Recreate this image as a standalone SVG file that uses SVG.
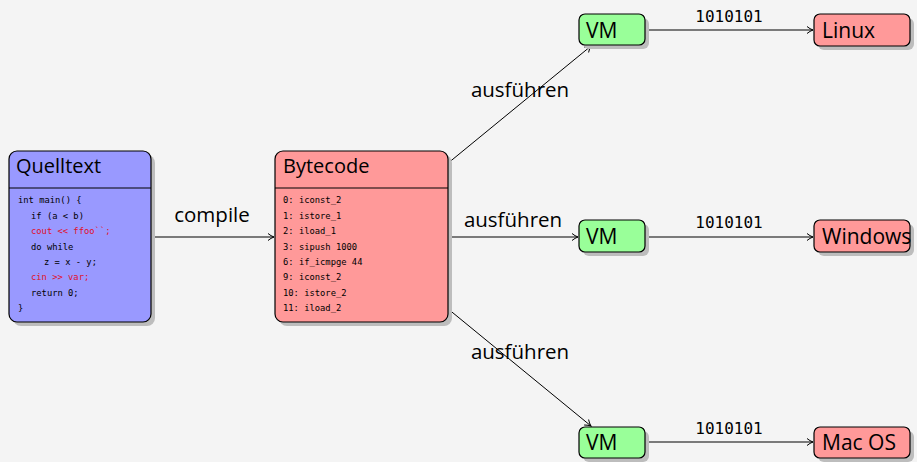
<svg xmlns="http://www.w3.org/2000/svg" width="917" height="462" viewBox="0 0 917 462">
<defs>
<marker id="arr" markerWidth="10" markerHeight="10" refX="7" refY="5" orient="auto" markerUnits="userSpaceOnUse">
<path d="M1,1.5 Q4,4 7,5 Q4,6 1,8.5" fill="none" stroke="#000" stroke-width="1"/>
</marker>
</defs>
<style>
.bg{fill:#f4f4f4}
.shadow{fill:#bdbdbd}
.box{stroke:#000;stroke-width:1.2}
.blue{fill:#9999ff}
.red{fill:#ff9999}
.green{fill:#99ff99}
.title{font-family:"Open Sans","Noto Sans",sans-serif;font-size:20px;fill:#000}
.node{font-family:"Open Sans","Noto Sans",sans-serif;font-size:21px;fill:#000}
.code{font-family:"DejaVu Sans Mono",monospace;font-size:8.8px;fill:#000}
.codered{fill:#e0102a}
.lbl{font-family:"Open Sans","Noto Sans",sans-serif;font-size:20.5px;fill:#000}
.bin{font-family:"DejaVu Sans Mono",monospace;font-size:16px;fill:#000}
.conn{stroke:#000;stroke-width:1;fill:none;marker-end:url(#arr)}
</style>
<rect class="bg" x="0" y="0" width="917" height="462"/>

<g id="connectors">
<line class="conn" x1="151" y1="237" x2="274" y2="237"/>
<line class="conn" x1="448" y1="237" x2="578" y2="237"/>
<line class="conn" x1="447" y1="164" x2="591" y2="46"/>
<line class="conn" x1="447" y1="308" x2="591" y2="426"/>
<line class="conn" x1="645" y1="30" x2="813" y2="30"/>
<line class="conn" x1="645" y1="237" x2="813" y2="237"/>
<line class="conn" x1="645" y1="442" x2="813" y2="442"/>
<text class="lbl" x="212" y="222" text-anchor="middle">compile</text>
<text class="lbl" x="513" y="227" text-anchor="middle">ausführen</text>
<text class="lbl" x="520" y="97" text-anchor="middle">ausführen</text>
<text class="lbl" x="520" y="359" text-anchor="middle">ausführen</text>
<text class="bin" x="729" y="22" text-anchor="middle">1010101</text>
<text class="bin" x="729" y="228" text-anchor="middle">1010101</text>
<text class="bin" x="729" y="434" text-anchor="middle">1010101</text>
</g>

<g id="quelltext">
<rect class="shadow" x="13" y="155" width="142" height="171" rx="8"/>
<rect class="box blue" x="9" y="151" width="142" height="171" rx="8"/>
<line x1="9" y1="188" x2="151" y2="188" stroke="#000" stroke-width="1.2"/>
<text class="title" x="16" y="173">Quelltext</text>
<text class="code" x="18" y="203">int main() {</text>
<text class="code" x="31" y="219">if (a &lt; b)</text>
<text class="code codered" x="31" y="234">cout &lt;&lt; ffoo``;</text>
<text class="code" x="31" y="250">do while</text>
<text class="code" x="44" y="265">z = x - y;</text>
<text class="code codered" x="31" y="280">cin &gt;&gt; var;</text>
<text class="code" x="31" y="296">return 0;</text>
<text class="code" x="18" y="311">}</text>
</g>

<g id="bytecode">
<rect class="shadow" x="279" y="155" width="173" height="171" rx="8"/>
<rect class="box red" x="275" y="151" width="173" height="171" rx="8"/>
<line x1="275" y1="188" x2="448" y2="188" stroke="#000" stroke-width="1.2"/>
<text class="title" x="283" y="173">Bytecode</text>
<text class="code" x="283" y="203">0: iconst_2</text>
<text class="code" x="283" y="219">1: istore_1</text>
<text class="code" x="283" y="234">2: iload_1</text>
<text class="code" x="283" y="250">3: sipush 1000</text>
<text class="code" x="283" y="265">6: if_icmpge 44</text>
<text class="code" x="283" y="280">9: iconst_2</text>
<text class="code" x="283" y="296">10: istore_2</text>
<text class="code" x="283" y="311">11: iload_2</text>
</g>

<g id="vm1">
<rect class="shadow" x="583" y="18" width="66" height="31" rx="6"/>
<rect class="box green" x="579" y="14" width="66" height="31" rx="6"/>
<text class="node" x="586" y="38">VM</text>
</g>
<g id="vm2">
<rect class="shadow" x="583" y="224" width="66" height="32" rx="6"/>
<rect class="box green" x="579" y="220" width="66" height="32" rx="6"/>
<text class="node" x="586" y="244">VM</text>
</g>
<g id="vm3">
<rect class="shadow" x="583" y="431" width="66" height="31" rx="6"/>
<rect class="box green" x="579" y="427" width="66" height="31" rx="6"/>
<text class="node" x="586" y="450">VM</text>
</g>

<g id="linux">
<rect class="shadow" x="818" y="18" width="96" height="32" rx="6"/>
<rect class="box red" x="814" y="14" width="96" height="32" rx="6"/>
<text class="node" x="822" y="38">Linux</text>
</g>
<g id="windows">
<rect class="shadow" x="818" y="224" width="96" height="32" rx="6"/>
<rect class="box red" x="814" y="220" width="96" height="32" rx="6"/>
<text class="node" x="822" y="244">Windows</text>
</g>
<g id="macos">
<rect class="shadow" x="818" y="431" width="96" height="31" rx="6"/>
<rect class="box red" x="814" y="427" width="96" height="31" rx="6"/>
<text class="node" x="822" y="450">Mac OS</text>
</g>
</svg>
